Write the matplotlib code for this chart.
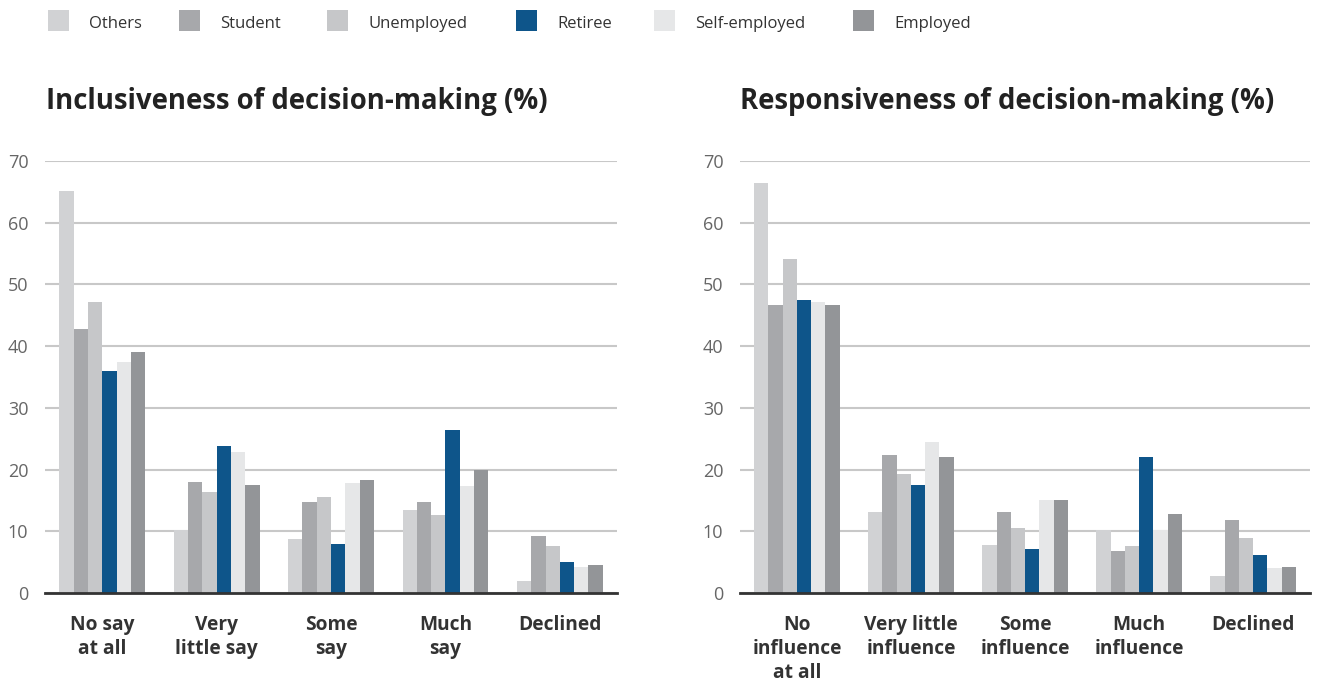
import matplotlib
matplotlib.use("Agg")
import matplotlib.pyplot as plt
from matplotlib.patches import Rectangle
import numpy as np

plt.rcParams['font.family'] = ['Open Sans', 'DejaVu Sans']

groups = ["Others", "Student", "Unemployed", "Retiree", "Self-employed", "Employed"]
colors = ["#d1d2d4", "#a7a8ab", "#c6c7c9", "#0e558a", "#e6e7e8", "#939598"]

left_title = "Inclusiveness of decision-making (%)"
left_cats = ["No say\nat all", "Very\nlittle say", "Some\nsay", "Much\nsay", "Declined"]
left_vals = {
    "Others":        [65.1, 10.2, 8.7, 13.4, 1.9],
    "Student":       [42.7, 18.0, 14.7, 14.7, 9.2],
    "Unemployed":    [47.1, 16.4, 15.5, 12.7, 7.6],
    "Retiree":       [36.0, 23.8, 7.9, 26.4, 5.0],
    "Self-employed": [37.4, 22.8, 17.9, 17.3, 4.2],
    "Employed":      [39.0, 17.5, 18.3, 19.9, 4.5],
}

right_title = "Responsiveness of decision-making (%)"
right_cats = ["No\ninfluence\nat all", "Very little\ninfluence", "Some\ninfluence", "Much\ninfluence", "Declined"]
right_vals = {
    "Others":        [66.5, 13.1, 7.7, 10.2, 2.7],
    "Student":       [46.6, 22.4, 13.1, 6.8, 11.8],
    "Unemployed":    [54.2, 19.3, 10.5, 7.6, 8.9],
    "Retiree":       [47.5, 17.5, 7.2, 22.0, 6.1],
    "Self-employed": [47.1, 24.5, 15.0, 10.2, 4.0],
    "Employed":      [46.7, 22.0, 15.0, 12.8, 4.2],
}

W, H = 1320, 684
fig = plt.figure(figsize=(W / 100, H / 100), dpi=100)


def draw(ax, cats, vals):
    x = np.arange(len(cats))
    n = len(groups)
    bw = 0.75 / n
    for i, g in enumerate(groups):
        ax.bar(x - 0.375 + bw * (i + 0.5), vals[g], width=bw, color=colors[i], zorder=2)
    ax.set_xlim(-0.5, len(cats) - 0.5)
    ax.set_ylim(0, 70)
    ax.set_yticks(range(0, 71, 10))
    ax.grid(axis='y', color='#c8c8c8', linewidth=1.5, zorder=0)
    ax.set_axisbelow(True)
    for s in ['top', 'right', 'left']:
        ax.spines[s].set_visible(False)
    ax.spines['bottom'].set_color('#333333')
    ax.spines['bottom'].set_linewidth(2)
    ax.spines['bottom'].set_zorder(3)
    ax.set_xticks(x)
    ax.set_xticklabels(cats, fontsize=13.8, fontweight='bold', color='#333333', linespacing=1.25)
    ax.tick_params(axis='x', length=0, pad=16)
    ax.tick_params(axis='y', length=0, pad=12, labelsize=13, labelcolor='#666666')


ax1 = fig.add_axes([45 / W, 1 - 593 / H, 572 / W, 432 / H])
draw(ax1, left_cats, left_vals)
ax2 = fig.add_axes([740 / W, 1 - 593 / H, 570 / W, 432 / H])
draw(ax2, right_cats, right_vals)

fig.text(46 / W, 1 - 101 / H, left_title, fontsize=19.8, fontweight='bold', color='#222222', va='center')
fig.text(740 / W, 1 - 101 / H, right_title, fontsize=19.8, fontweight='bold', color='#222222', va='center')

# legend drawn by hand so the uneven item spacing of the original is kept
legend_x = [48, 179, 327, 516, 654, 853]
for px, g, c in zip(legend_x, groups, colors):
    fig.add_artist(Rectangle((px / W, 1 - 31 / H), 21 / W, 21 / H, transform=fig.transFigure,
                             facecolor=c, edgecolor='none'))
    fig.text((px + 41) / W, 1 - 24 / H, g, fontsize=12, color='#333333', va='center')

fig.savefig("out.png", dpi=100)
